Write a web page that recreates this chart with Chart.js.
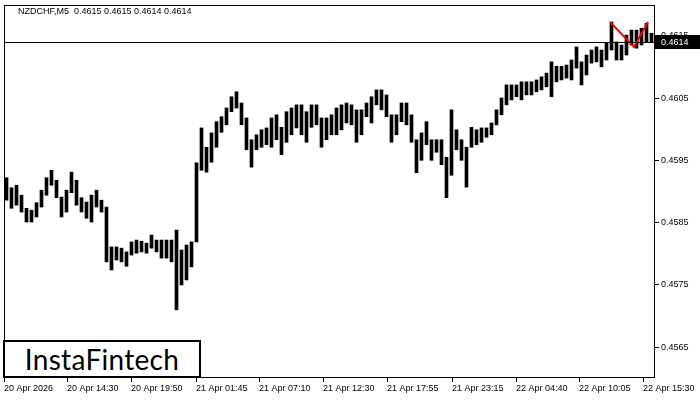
<!DOCTYPE html>
<html>
<head>
<meta charset="utf-8">
<script src="https://cdn.jsdelivr.net/npm/chart.js@4"></script>
<style>
  body { margin: 0; background: #fff; }
  #wrap { position: relative; width: 700px; height: 400px; }
  #logo {
    position: absolute; left: 3px; top: 340px; width: 194px; height: 34px;
    border: 2px solid #000; background: #fff;
    font-family: "Lato", "Open Sans", sans-serif; font-size: 28px; line-height: 34px;
    color: #000; text-align: center; letter-spacing: 0.3px;
  }
</style>
</head>
<body>
<div id="wrap">
  <canvas id="chart"></canvas>
  <div id="logo">InstaFintech</div>
</div>
<script>
// NZDCHF M5 - one column = 5 bars (pixel ~ bar)
const headerText = "NZDCHF,M5  0.4615 0.4615 0.4614 0.4614";

const highs = [
  0.45922, 0.45906, 0.45910, 0.45894, 0.45873, 0.45870, 0.45882, 0.45902, 0.45922, 0.45934,
  0.45918, 0.45891, 0.45902, 0.45931, 0.45918, 0.45890, 0.45883, 0.45894, 0.45902, 0.45886,
  0.45875, 0.45811, 0.45811, 0.45809, 0.45803, 0.45819, 0.45822, 0.45820, 0.45817, 0.45830,
  0.45822, 0.45822, 0.45822, 0.45822, 0.45838, 0.45806, 0.45814, 0.45819, 0.45946, 0.46002,
  0.45971, 0.45994, 0.46012, 0.46020, 0.46034, 0.46052, 0.46060, 0.46042, 0.46018, 0.45983,
  0.45991, 0.45999, 0.46002, 0.46018, 0.46023, 0.46003, 0.46028, 0.46034, 0.46039, 0.46039,
  0.46028, 0.46039, 0.46039, 0.46018, 0.46018, 0.46023, 0.46034, 0.46039, 0.46042, 0.46039,
  0.46031, 0.46031, 0.46042, 0.46052, 0.46063, 0.46063, 0.46055, 0.46023, 0.46023, 0.46042,
  0.46042, 0.46023, 0.45983, 0.45994, 0.46012, 0.45983, 0.45983, 0.45983, 0.45955, 0.46031,
  0.45999, 0.45983, 0.45971, 0.46003, 0.45999, 0.46002, 0.46002, 0.46010, 0.46031, 0.46050,
  0.46071, 0.46071, 0.46071, 0.46076, 0.46076, 0.46076, 0.46079, 0.46084, 0.46090, 0.46108,
  0.46101, 0.46101, 0.46103, 0.46111, 0.46132, 0.46108, 0.46119, 0.46127, 0.46132, 0.46127,
  0.46138, 0.46172, 0.46140, 0.46135, 0.46151, 0.46159, 0.46159, 0.46162, 0.46170, 0.46154
];

const lows = [
  0.45886, 0.45873, 0.45878, 0.45867, 0.45851, 0.45851, 0.45859, 0.45875, 0.45894, 0.45910,
  0.45890, 0.45859, 0.45867, 0.45898, 0.45878, 0.45867, 0.45857, 0.45851, 0.45875, 0.45867,
  0.45787, 0.45774, 0.45790, 0.45787, 0.45780, 0.45798, 0.45801, 0.45803, 0.45801, 0.45809,
  0.45803, 0.45793, 0.45793, 0.45787, 0.45710, 0.45750, 0.45758, 0.45779, 0.45819, 0.45934,
  0.45931, 0.45947, 0.45971, 0.45995, 0.46007, 0.46028, 0.46034, 0.46007, 0.45967, 0.45939,
  0.45967, 0.45971, 0.45975, 0.45971, 0.45983, 0.45959, 0.45979, 0.45991, 0.46002, 0.45991,
  0.45979, 0.46003, 0.46007, 0.45971, 0.45983, 0.45991, 0.45991, 0.45999, 0.46010, 0.46007,
  0.45979, 0.45991, 0.46020, 0.46010, 0.46039, 0.46031, 0.46020, 0.45979, 0.45991, 0.46012,
  0.46007, 0.45979, 0.45930, 0.45950, 0.45975, 0.45950, 0.45963, 0.45943, 0.45890, 0.45926,
  0.45967, 0.45950, 0.45907, 0.45971, 0.45975, 0.45979, 0.45987, 0.45991, 0.46007, 0.46023,
  0.46039, 0.46047, 0.46052, 0.46047, 0.46055, 0.46055, 0.46060, 0.46063, 0.46068, 0.46052,
  0.46076, 0.46079, 0.46082, 0.46079, 0.46098, 0.46071, 0.46087, 0.46106, 0.46108, 0.46100,
  0.46111, 0.46127, 0.46111, 0.46111, 0.46119, 0.46135, 0.46130, 0.46135, 0.46140, 0.46140
];

const xTickPos = [0, 63, 127, 192, 255, 319, 383, 448, 512, 575, 639];
const xLabels = [
  "20 Apr 2026", "20 Apr 14:30", "20 Apr 19:50", "21 Apr 01:45", "21 Apr 07:10",
  "21 Apr 12:30", "21 Apr 17:55", "21 Apr 23:15", "22 Apr 04:40", "22 Apr 10:05", "22 Apr 15:30"
];
const yTicks = [0.4565, 0.4575, 0.4585, 0.4595, 0.4605, 0.4615];

const zigzagX = [606, 630, 644];
const zigzagY = [0.46172, 0.46132, 0.46172];
const lastPrice = 0.4614;

const barsPerCol = 5;
const bars = highs.map((h, i) => ({ x: i * barsPerCol + 2.5, y: [lows[i], h] }));
const zigzag = zigzagX.map((x, i) => ({ x: x, y: zigzagY[i] }));

const axisFont = { family: "Liberation Sans", size: 9 };

const mtOverlay = {
  id: "mtOverlay",
  afterDraw(chart) {
    const { ctx, chartArea: { left, right, top, bottom }, scales: { y } } = chart;
    ctx.save();
    // frame
    ctx.strokeStyle = "#000";
    ctx.lineWidth = 1;
    ctx.strokeRect(left + 0.5, top + 0.5, right - left - 1, bottom - top - 1);
    // bid line
    const py = Math.round(y.getPixelForValue(lastPrice)) + 0.5;
    ctx.beginPath();
    ctx.moveTo(left, py);
    ctx.lineTo(right, py);
    ctx.stroke();
    // price box
    ctx.fillStyle = "#000";
    ctx.fillRect(right, py - 7.5, 45, 14);
    ctx.fillStyle = "#fff";
    ctx.font = "9px 'Liberation Sans'";
    ctx.textBaseline = "middle";
    ctx.textAlign = "left";
    ctx.fillText(lastPrice.toFixed(4), right + 6, py);
    // header
    ctx.fillStyle = "#000";
    ctx.fillText(headerText, left + 14, top + 7);
    ctx.restore();
  }
};

new Chart(document.getElementById("chart"), {
  type: "bar",
  data: {
    datasets: [
      {
        type: "line",
        data: zigzag,
        borderColor: "#ff0000",
        borderWidth: 2,
        pointRadius: 0,
        tension: 0,
        order: 0
      },
      {
        data: bars,
        backgroundColor: "#000",
        borderWidth: 0,
        barThickness: 3,
        grouped: false,
        order: 1
      }
    ]
  },
  options: {
    responsive: true,
    maintainAspectRatio: false,
    animation: false,
    layout: { padding: { left: 4, top: 5, right: 0, bottom: 0 } },
    plugins: { legend: { display: false }, tooltip: { enabled: false } },
    scales: {
      x: {
        type: "linear",
        min: 0,
        max: 651,
        offset: false,
        grid: { drawOnChartArea: false, offset: false, tickLength: 4, color: "#000" },
        border: { display: false },
        afterBuildTicks: (s) => { s.ticks = xTickPos.map(v => ({ value: v })); },
        afterFit: (s) => { s.height = 22; s.paddingLeft = 0; s.paddingRight = 0; },
        ticks: {
          autoSkip: false,
          maxRotation: 0,
          align: "start",
          padding: 1,
          color: "#000",
          font: axisFont,
          callback: (v) => xLabels[xTickPos.indexOf(v)]
        }
      },
      y: {
        position: "right",
        min: 0.456006,
        max: 0.461993,
        grid: { drawOnChartArea: false, tickLength: 4, color: "#000" },
        border: { display: false },
        afterBuildTicks: (s) => { s.ticks = yTicks.map(v => ({ value: v })); },
        afterFit: (s) => { s.width = 45; s.paddingTop = 0; s.paddingBottom = 0; },
        ticks: {
          padding: 2,
          color: "#000",
          font: axisFont,
          callback: (v) => v.toFixed(4)
        }
      }
    }
  },
  plugins: [mtOverlay]
});
</script>
</body>
</html>
